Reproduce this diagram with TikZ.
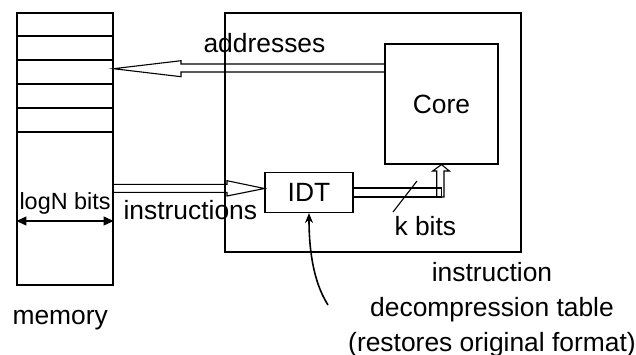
\documentclass[tikz,border=0pt]{standalone}
\usepackage{fontspec}
\setmainfont{Liberation Sans}
\usetikzlibrary{arrows.meta}
\usetikzlibrary{calc}
\usetikzlibrary{positioning}

\begin{document}
\begin{tikzpicture}[x=0.5pt, y=-0.5pt, line width=0.55pt,
	>={Triangle[length=5pt, width=4.5pt]},
	font=\fontsize{13.2}{17.5}\selectfont,
	blk/.style={rectangle, draw, inner sep=0pt},
	lbl/.style={inner sep=0pt, anchor=base west},
	hollow/.style={draw, line join=miter},
]
\useasboundingbox (0,0) rectangle (636,354);
% memory and its words
\node [blk, minimum width=48pt, minimum height=136pt] (mem) at (65,149) {};
\foreach \y in {36,60,84,108,132}
	\draw (mem.west |- 0,\y) -- (mem.east |- 0,\y);
\node [lbl] (memtxt) at (12,324) {memory};
\node [lbl, font=\fontsize{11.7}{14}\selectfont] (wtxt) at (19,209) {logN bits};
\draw [<->] (mem.west |- 0,221) -- (mem.east |- 0,221);
%
\node [blk, minimum width=148pt, minimum height=119.5pt] (sys) at (373,132.5) {};
\node [blk, minimum width=56.5pt, minimum height=60pt] (core) at (441.5,104) {Core};
\node [blk, minimum width=44pt, minimum height=20pt] (idt) at (309,192.5) {IDT};
%
% addresses back to memory
\draw [hollow] (core.west |- 0,64) -- (181,64) -- (181,60.7) -- (mem.east |- 0,68.7)
	-- (181,76.7) -- (181,72) -- (core.west |- 0,72);
\node [lbl] (addrtxt) at (203,52) {addresses};
% instructions into the table
\draw [hollow] (mem.east |- 0,184.3) -- (227,184.3) -- (227,180.7) -- (idt.west |- 0,188.5)
	-- (227,196) -- (227,192.3) -- (mem.east |- 0,192.3);
\node [lbl] (instxt) at (123,219) {instructions};
% k bits up to the core
\draw [hollow] (idt.east |- 0,188) -- (441.7,188) -- (441.7,197) -- (idt.east |- 0,197);
\draw [hollow] (436.7,197) -- (436.7,171) -- (432.7,171) -- (core.south)
	-- (449.3,171) -- (444,171) -- (444,197) -- cycle;
\draw (393,212) -- (417,181);
\node [lbl] (ktxt) at (394,235) {k bits};
%
\coordinate (note) at (328,305);
\draw [line width=0.8pt, -{Stealth[length=5pt, width=4pt]}] (note)
	.. controls (312,280) and (309,245) .. (idt.south);
% base sits on the last line here
\node [align=center, anchor=base, inner sep=0pt] (notetxt) at (492,351)
	{instruction\\decompression table\\(restores original format)};
\end{tikzpicture}
\end{document}
